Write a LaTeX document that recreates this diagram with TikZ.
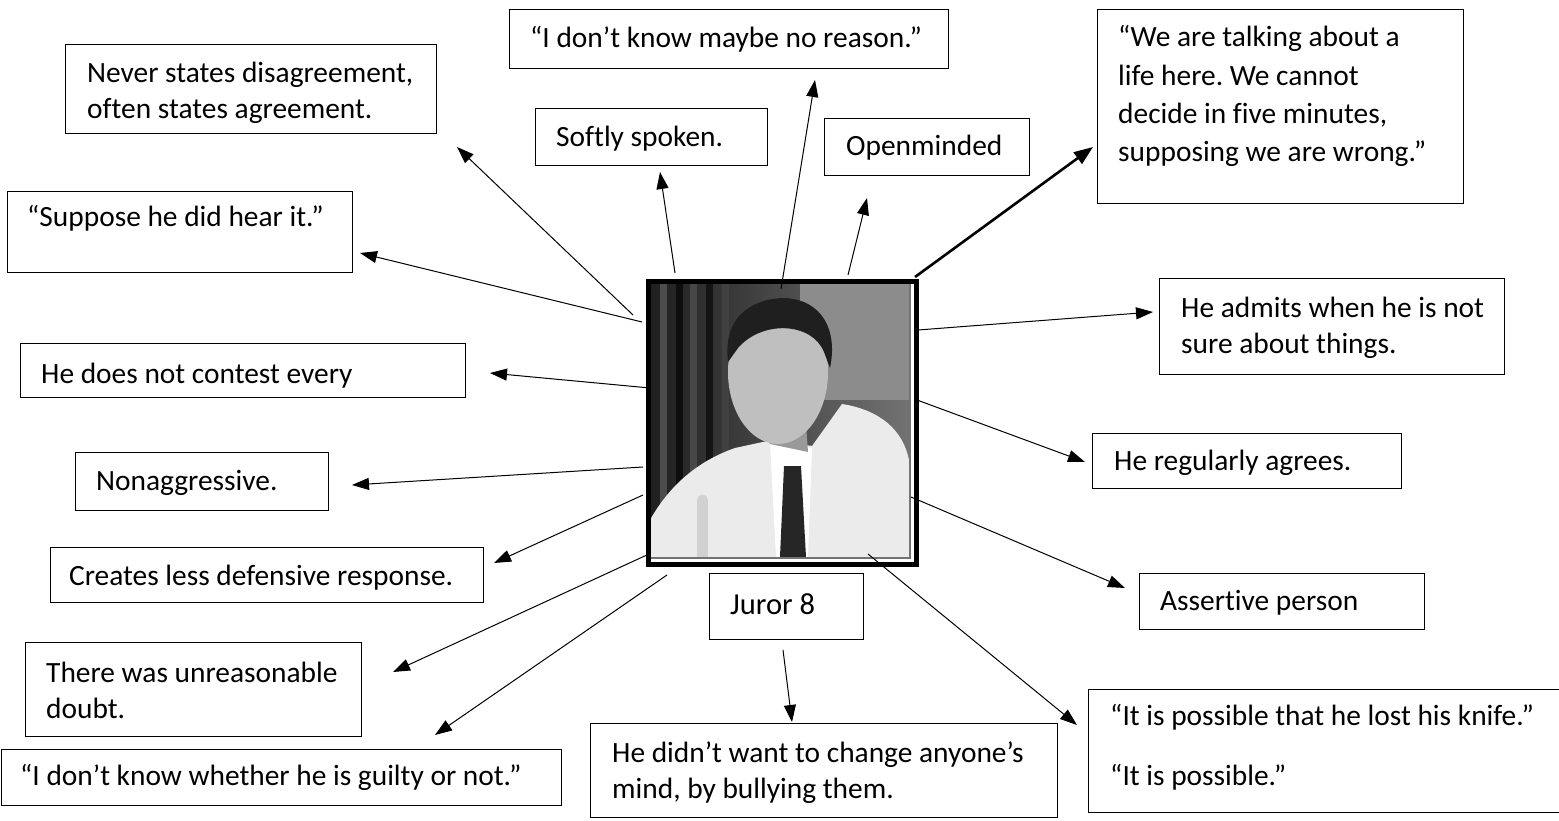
\documentclass[tikz,border=0pt]{standalone}
\usepackage{fontspec}
\setmainfont{Carlito}[Ligatures=NoCommon]
\usetikzlibrary{arrows.meta}
\frenchspacing
\begin{document}
\begin{tikzpicture}[x=1pt,y=-1pt,
  box/.style={draw=black, line width=1.3pt, anchor=north west, inner sep=0pt},
  txt/.style={anchor=base west, inner sep=0pt, font=\fontsize{29.4}{36}\selectfont},
  conn/.style={line width=1pt, -{Triangle[length=17pt,width=12pt]}},
  thickconn/.style={line width=2.6pt, -{Triangle[length=19pt,width=14pt]}}]
\useasboundingbox (0,0) rectangle (1559,821);
\fill[white] (0,0) rectangle (1559,821);

% ---------- photo (stylised) ----------
\shade[left color=black!88, right color=black!55] (650,284) rectangle (909,557);
\fill[black!45] (800,284) rectangle (909,400);
\foreach \xx/\cc in {660/black!70,676/black!95,690/black!72,706/black!92,722/black!75}
  \fill[\cc] (\xx,284) rectangle (\xx+7,557);
\fill[black!8] (650,557) -- (650,520) .. controls (668,488) and (695,462) .. (735,448)
  -- (772,440) -- (812,446) -- (842,404) .. controls (880,410) and (903,430) .. (909,460)
  -- (909,557) -- cycle;
\fill[white] (770,442) -- (812,448) -- (808,557) -- (776,557) -- cycle;
\fill[black!85] (784,466) -- (801,466) -- (806,557) -- (780,557) -- cycle;
\fill[black!40] (752,410) -- (805,410) -- (808,452) -- (770,444) -- cycle;
\fill[black!25] (778,372) ellipse [x radius=50, y radius=72];
\fill[black!88] (728,362) .. controls (722,312) and (758,298) .. (785,298)
  .. controls (822,300) and (838,330) .. (830,368) -- (824,352)
  .. controls (812,322) and (762,320) .. (738,348) -- cycle;
\fill[black!18] (697,500) rectangle (708,557);
\fill[black!18] (702.5,500) circle (5.5);
\draw[black!55, line width=2pt] (649,283) rectangle (910,558);
\node[draw=black, line width=5pt, anchor=north west, inner sep=0pt,
  minimum width=268pt, minimum height=282pt] (photo) at (645.5,279.5) {};

% ---------- boxes ----------
\node[box, minimum width=371pt, minimum height=89pt] (never) at (65,44) {};
\node[box, minimum width=345pt, minimum height=81pt] (suppose) at (7,191) {};
\node[box, minimum width=439pt, minimum height=59pt] (idk) at (509,9) {};
\node[box, minimum width=232pt, minimum height=57pt] (softly) at (535,108) {};
\node[box, minimum width=205pt, minimum height=57pt] (open) at (824,118) {};
\node[box, minimum width=366pt, minimum height=194pt] (weare) at (1097,9) {};
\node[box, minimum width=345pt, minimum height=96pt] (admits) at (1159,278) {};
\node[box, minimum width=445pt, minimum height=54pt] (contest) at (20,343) {};
\node[box, minimum width=253pt, minimum height=58pt] (nonagg) at (75,452) {};
\node[box, minimum width=433pt, minimum height=55pt] (creates) at (50,547) {};
\node[box, minimum width=336pt, minimum height=94pt] (unreas) at (25,642) {};
\node[box, minimum width=560pt, minimum height=56pt] (whether) at (1,749) {};
\node[box, minimum width=154pt, minimum height=66pt] (juror) at (709,573) {};
\node[box, minimum width=467pt, minimum height=94pt] (bully) at (590,723) {};
\node[box, minimum width=309pt, minimum height=55pt] (agrees) at (1092,433) {};
\node[box, minimum width=285pt, minimum height=56pt] (assert) at (1139,573) {};
\node[box, minimum width=480pt, minimum height=123pt] (possible) at (1088,689) {};

% ---------- texts ----------
\begin{scope}
\clip (65,44) rectangle (436,123);
\node[txt] (nevertxt) at (87,83) {\begin{tabular}[t]{@{}l@{}}Never states disagreement,\\often states agreement.\end{tabular}};
\end{scope}
\node[txt] (supposetxt) at (27,227) {“Suppose he did hear it.”};
\node[txt] (idktxt) at (530,48) {“I don’t know maybe no reason.”};
\node[txt] (softlytxt) at (556,147) {Softly spoken.};
\node[txt] (opentxt) at (846,156) {Openminded};
\node[txt, font=\fontsize{29.4}{38.3}\selectfont] (wearetxt) at (1118,47) {\begin{tabular}[t]{@{}l@{}}“We are talking about a\\life here. We cannot\\decide in five minutes,\\supposing we are wrong.”\end{tabular}};
\node[txt] (admitstxt) at (1181,317) {\begin{tabular}[t]{@{}l@{}}He admits when he is not\\sure about things.\end{tabular}};
\node[txt] (contesttxt) at (41,383) {He does not contest every};
\node[txt] (nonaggtxt) at (96,490) {Nonaggressive.};
\node[txt] (createstxt) at (69,585) {Creates less defensive response.};
\node[txt] (unreastxt) at (46,682) {\begin{tabular}[t]{@{}l@{}}There was unreasonable\\doubt.\end{tabular}};
\node[txt] (whethertxt) at (20,785) {“I don’t know whether he is guilty or not.”};
\node[txt, font=\fontsize{30.5}{36}\selectfont] (jurortxt) at (730,614) {Juror 8};
\node[txt] (bullytxt) at (612,762) {\begin{tabular}[t]{@{}l@{}}He didn’t want to change anyone’s\\mind, by bullying them.\end{tabular}};
\node[txt] (agreestxt) at (1114,470) {He regularly agrees.};
\node[txt] (asserttxt) at (1160,610) {Assertive person};
\node[txt, font=\fontsize{29.4}{60}\selectfont] (possibletxt) at (1110,725) {\begin{tabular}[t]{@{}l@{}}“It is possible that he lost his knife.”\\“It is possible.”\end{tabular}};

% ---------- connector end points ----------
\coordinate (s1) at (633,315);  \coordinate (t1) at (457,147);
\coordinate (s2) at (642,322);  \coordinate (t2) at (360,253);
\coordinate (s3) at (675,273);  \coordinate (t3) at (660,172);
\coordinate (s4) at (781,289);  \coordinate (t4) at (815,80);
\coordinate (s5) at (848,275);  \coordinate (t5) at (867,198);
\coordinate (s6) at (915,277);  \coordinate (t6) at (1093,147);
\coordinate (s7) at (918,330);  \coordinate (t7) at (1153,312);
\coordinate (s8) at (650,388);  \coordinate (t8) at (490,373);
\coordinate (s9) at (643,467);  \coordinate (t9) at (352,485);
\coordinate (s10) at (643,495); \coordinate (t10) at (494,563);
\coordinate (s11) at (649,554); \coordinate (t11) at (393,672);
\coordinate (s12) at (667,575); \coordinate (t12) at (435,735);
\coordinate (s13) at (783,650); \coordinate (t13) at (792,722);
\coordinate (s14) at (917,400); \coordinate (t14) at (1085,462);
\coordinate (s15) at (911,497); \coordinate (t15) at (1125,588);
\coordinate (s16) at (868,554); \coordinate (t16) at (1077,725);

\foreach \i in {1,2,3,4,5,7,8,9,10,11,12,13,14,15,16}
  \draw[conn] (s\i) -- (t\i);
\draw[thickconn] (s6) -- (t6);
\end{tikzpicture}
\end{document}
